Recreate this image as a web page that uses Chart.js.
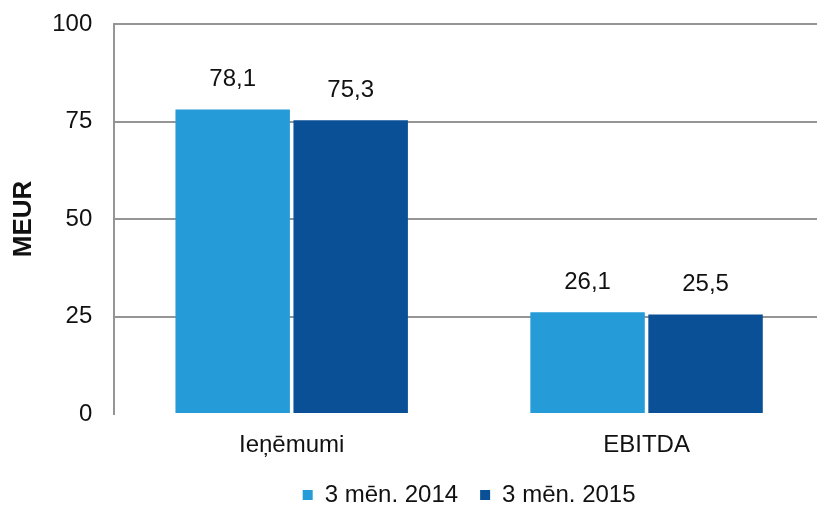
<!DOCTYPE html>
<html>
<head>
<meta charset="utf-8">
<script src="https://cdn.jsdelivr.net/npm/chart.js@4.4.0/dist/chart.umd.min.js"></script>
<style>
  html, body { margin: 0; padding: 0; background: #fff; overflow: hidden; }
  #wrap { width: 824px; height: 512px; }
</style>
</head>
<body>
<div id="wrap"><canvas id="myChart"></canvas></div>
<script>
// donnees
let categories = ["Ieņēmumi", "EBITDA"];
let serie2014 = [78.1, 26.1];
let serie2015 = [75.3, 25.5];
let nomsSeries = ["3 mēn. 2014", "3 mēn. 2015"];
let ticksY = [0, 25, 50, 75, 100];

let police = "Arial, 'Liberation Sans', sans-serif";

// etiquettes au-dessus des barres
let etiquettes = {
  id: "etiquettes",
  afterDatasetsDraw(chart) {
    let ctx = chart.ctx;
    ctx.save();
    ctx.font = "24px " + police;
    ctx.fillStyle = "#111";
    ctx.textAlign = "center";
    ctx.textBaseline = "bottom";
    chart.data.datasets.forEach((ds, i) => {
      chart.getDatasetMeta(i).data.forEach((bar, j) => {
        ctx.fillText(ds.data[j].toFixed(1).replace(".", ","), bar.x, bar.y - 18);
      });
    });
    ctx.restore();
  }
};

let ctx = document.getElementById("myChart").getContext("2d");
new Chart(ctx, {
  type: "bar",
  data: {
    labels: categories,
    datasets: [{
      label: nomsSeries[0],
      data: serie2014,
      backgroundColor: "#259CD8",
      categoryPercentage: 0.665,
      barPercentage: 0.97
    }, {
      label: nomsSeries[1],
      data: serie2015,
      backgroundColor: "#0A5096",
      categoryPercentage: 0.665,
      barPercentage: 0.97
    }]
  },
  options: {
    responsive: true,
    maintainAspectRatio: false,
    animation: false,
    layout: { autoPadding: false, padding: { top: 12, right: 0, left: -10, bottom: -5 } },
    plugins: {
      legend: {
        position: "bottom",
        fullSize: false,
        labels: {
          font: { size: 24, family: police },
          color: "#111",
          boxWidth: 10,
          boxHeight: 10,
          padding: 22
        }
      },
      tooltip: { enabled: false }
    },
    scales: {
      x: {
        grid: { display: false, drawTicks: false },
        border: { display: false },
        ticks: { font: { size: 24, family: police }, color: "#111", padding: 17 },
        afterFit: (axis) => { axis.height = 47; }
      },
      y: {
        min: 0,
        max: 100,
        afterBuildTicks: (axis) => { axis.ticks = ticksY.map(v => ({ value: v })); },
        afterFit: (axis) => { axis.paddingTop = 24; },
        grid: {
          drawTicks: false,
          lineWidth: 2,
          color: (c) => c.tick && c.tick.value === 0 ? "rgba(0,0,0,0)" : "#959595"
        },
        border: { display: true, color: "#959595", width: 2 },
        ticks: { font: { size: 24, family: police }, color: "#111", padding: 22 },
        title: {
          display: true,
          text: "MEUR",
          font: { size: 26, weight: "bold", family: police },
          color: "#111",
          padding: { top: 18, bottom: -9 }
        }
      }
    }
  },
  plugins: [etiquettes]
});
</script>
</body>
</html>
